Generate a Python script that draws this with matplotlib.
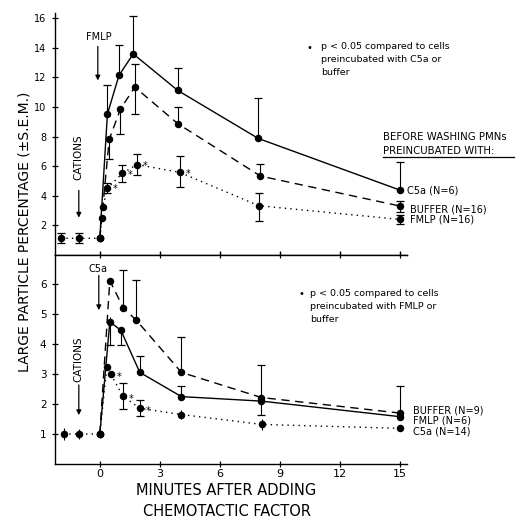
import numpy as np
import matplotlib
matplotlib.use("Agg")
import matplotlib.pyplot as plt
from matplotlib.lines import Line2D

plt.rcParams['font.family'] = ['DejaVu Sans']

# ---- top panel: FMLP added (minutes, % large particles) ----
top_c5a_x = [0, 0.38, 0.96, 1.67, 3.9, 7.92, 15]
top_c5a_y = [1.1, 9.52, 12.15, 13.6, 11.12, 7.87, 4.37]
top_c5a_up = [0, 1.98, 2.05, 2.6, 1.53, 2.71, 1.92]
top_c5a_lo = [0, 0, 0, 0, 0, 0, 0]

top_buf_x = [0, 0.1, 0.47, 1.03, 1.75, 3.9, 8.03, 15]
top_buf_y = [1.1, 2.5, 7.8, 9.86, 11.35, 8.87, 5.32, 3.29]
top_buf_up = [0, 0, 0, 0.14, 1.55, 1.13, 0.81, 0.31]
top_buf_lo = [0, 0, 1.35, 1.66, 1.8, 0, 0, 0.39]

top_fmlp_x = [-1.95, -1.05, 0, 0.15, 0.38, 1.13, 1.85, 4, 7.95, 15]
top_fmlp_y = [1.1, 1.1, 1.1, 3.2, 4.5, 5.5, 6.1, 5.57, 3.31, 2.38]
top_fmlp_up = [0.35, 0.35, 0, 0, 0.35, 0.55, 0.7, 1.1, 0.88, 0.3]
top_fmlp_lo = [0.35, 0.35, 0, 0, 0.35, 0.55, 0.7, 1.02, 1.02, 0.3]
top_star_x = [0.38, 1.13, 1.85, 4]
top_star_y = [4.5, 5.5, 6.1, 5.57]

# ---- bottom panel: C5a added ----
bot_buf_x = [0, 0.5, 1.17, 1.83, 4.08, 8.08, 15]
bot_buf_y = [1.0, 6.13, 5.22, 4.8, 3.06, 2.22, 1.7]
bot_buf_up = [0, 0, 1.26, 1.34, 1.19, 1.08, 0.9]
bot_buf_lo = [0, 0, 0, 0, 0, 0, 0]

bot_fmlp_x = [0, 0.5, 1.05, 2.0, 4.08, 8.08, 15]
bot_fmlp_y = [1.0, 4.75, 4.47, 3.06, 2.25, 2.1, 1.58]
bot_fmlp_up = [0, 0.17, 0, 0.56, 0.36, 0, 0]
bot_fmlp_lo = [0, 0.78, 0.5, 0, 0, 0.45, 0]

bot_c5a_x = [-1.8, -1.05, 0, 0.35, 0.55, 1.15, 2.0, 4.08, 8.1, 15]
bot_c5a_y = [1.0, 1.0, 1.0, 3.23, 3.0, 2.27, 1.86, 1.65, 1.32, 1.19]
bot_c5a_up = [0.2, 0.16, 0, 0, 0, 0.42, 0.27, 0.15, 0.18, 0.1]
bot_c5a_lo = [0.2, 0.16, 0, 0, 0, 0.42, 0.27, 0.15, 0.18, 0.1]
bot_star_x = [0.55, 1.15, 2.0]
bot_star_y = [3.0, 2.27, 1.86]

x_ticks = [0, 3, 6, 9, 12, 15]

fig = plt.figure(figsize=(5.27, 5.27), dpi=100)
ax1 = fig.add_axes([0.104, 0.517, 0.668, 0.458])
ax2 = fig.add_axes([0.104, 0.1197, 0.668, 0.3973])

def series(ax, x, y, up, lo, ls):
    x = np.array(x); y = np.array(y); up = np.array(up); lo = np.array(lo)
    ax.plot(x, y, color='k', ls=ls, lw=1.0, marker='o', ms=4.4, zorder=3)
    ax.vlines(x, y - lo, y + up, color='k', lw=0.8)
    m = up > 0.2
    ax.plot(x[m], (y + up)[m], ls='none', marker='_', ms=6, mew=0.9, color='k')
    m = lo > 0.2
    ax.plot(x[m], (y - lo)[m], ls='none', marker='_', ms=6, mew=0.9, color='k')

dash = (0, (6, 4))
dot = (0, (1, 3))

series(ax1, top_c5a_x, top_c5a_y, top_c5a_up, top_c5a_lo, '-')
series(ax1, top_buf_x, top_buf_y, top_buf_up, top_buf_lo, dash)
series(ax1, top_fmlp_x, top_fmlp_y, top_fmlp_up, top_fmlp_lo, dot)
for sx, sy in zip(top_star_x, top_star_y):
    ax1.annotate('*', (sx, sy), xytext=(4, -3), textcoords='offset points', fontsize=7)

series(ax2, bot_buf_x, bot_buf_y, bot_buf_up, bot_buf_lo, dash)
series(ax2, bot_fmlp_x, bot_fmlp_y, bot_fmlp_up, bot_fmlp_lo, '-')
series(ax2, bot_c5a_x, bot_c5a_y, bot_c5a_up, bot_c5a_lo, dot)
for sx, sy in zip(bot_star_x, bot_star_y):
    ax2.annotate('*', (sx, sy), xytext=(4, -4), textcoords='offset points', fontsize=7)

for ax in (ax1, ax2):
    ax.set_xlim(-2.25, 15.35)
    ax.spines['right'].set_visible(False)
    ax.set_xticks(x_ticks)
    ax.tick_params(direction='inout', length=5, width=0.9, labelsize=7.5)
    for s in ax.spines.values():
        s.set_linewidth(1.0)

ax1.set_ylim(0, 16.36)
ax1.set_yticks([2, 4, 6, 8, 10, 12, 14, 16])
ax1.spines['top'].set_visible(False)
ax1.tick_params(axis='x', labelbottom=False, direction='in', length=3)
ax1.tick_params(axis='y', labelsize=7)

ax2.set_ylim(0, 7.0)
ax2.set_yticks([1, 2, 3, 4, 5, 6])
ax2.tick_params(axis='x', top=True, labelsize=8, pad=1.5)

arw = dict(arrowstyle='-|>', lw=0.9, color='k', mutation_scale=7, shrinkA=0, shrinkB=0)

# top panel annotations
ax1.text(-0.05, 14.75, 'FMLP', fontsize=7, ha='center', va='center')
ax1.annotate('', xy=(-0.1, 11.8), xytext=(-0.1, 14.1), arrowprops=arw)
ax1.text(-1.05, 6.6, 'CATIONS', fontsize=7.5, rotation=90, ha='center', va='center')
ax1.annotate('', xy=(-1.05, 2.5), xytext=(-1.05, 4.35), arrowprops=arw)

ax1.text(10.5, 14.0, '\u2022', fontsize=7, ha='center', va='center')
ax1.text(11.05, 14.4, 'p < 0.05 compared to cells\npreincubated with C5a or\nbuffer',
         fontsize=6.8, ha='left', va='top', linespacing=1.6)

ax1.text(14.15, 7.96, 'BEFORE WASHING PMNs', fontsize=7.3, ha='left', va='center', clip_on=False)
ax1.text(14.15, 7.03, 'PREINCUBATED WITH:', fontsize=7.3, ha='left', va='center', clip_on=False)
ax1.add_line(Line2D([14.15, 20.7], [6.62, 6.62], color='k', lw=0.9, clip_on=False))
ax1.text(15.35, 4.32, 'C5a (N=6)', fontsize=7, ha='left', va='center', clip_on=False)
ax1.text(15.5, 3.08, 'BUFFER (N=16)', fontsize=7, ha='left', va='center', clip_on=False)
ax1.text(15.5, 2.4, 'FMLP (N=16)', fontsize=7, ha='left', va='center', clip_on=False)

# bottom panel annotations
ax2.text(-0.1, 6.53, 'C5a', fontsize=7, ha='center', va='center')
ax2.annotate('', xy=(-0.05, 5.14), xytext=(-0.05, 6.3), arrowprops=arw)
ax2.text(-1.05, 3.5, 'CATIONS', fontsize=7.5, rotation=90, ha='center', va='center')
ax2.annotate('', xy=(-1.05, 1.63), xytext=(-1.05, 2.64), arrowprops=arw)

ax2.text(10.08, 5.68, '\u2022', fontsize=7, ha='center', va='center')
ax2.text(10.53, 5.86, 'p < 0.05 compared to cells\npreincubated with FMLP or\nbuffer',
         fontsize=6.8, ha='left', va='top', linespacing=1.6)

ax2.text(15.65, 1.8, 'BUFFER (N=9)', fontsize=7, ha='left', va='center', clip_on=False)
ax2.text(15.65, 1.45, 'FMLP (N=6)', fontsize=7, ha='left', va='center', clip_on=False)
ax2.text(15.65, 1.08, 'C5a (N=14)', fontsize=7, ha='left', va='center', clip_on=False)

fig.text(0.047, 0.56, 'LARGE PARTICLE PERCENTAGE (\u00b1S.E.M.)', rotation=90,
         fontsize=10, ha='center', va='center')
fig.text(0.43, 0.049, 'MINUTES AFTER ADDING\nCHEMOTACTIC FACTOR', fontsize=10.5,
         ha='center', va='center', linespacing=1.45)

fig.savefig('out.png', dpi=100)
